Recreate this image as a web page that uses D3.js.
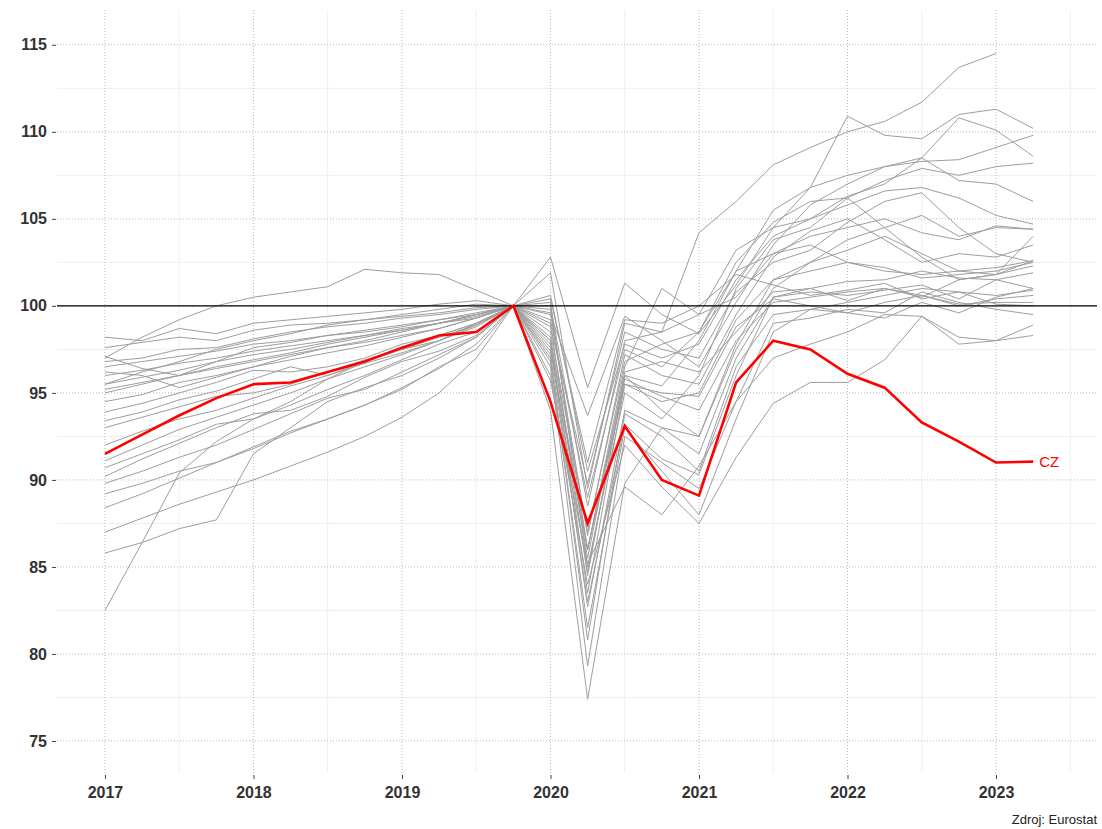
<!DOCTYPE html>
<html>
<head>
<meta charset="utf-8">
<script src="https://cdn.jsdelivr.net/npm/d3@7"></script>
<style>
  body { margin: 0; background: #fff; }
  text { font-family: "Liberation Sans", Arial, sans-serif; }
</style>
</head>
<body>
<div id="chart"></div>
<script>
// quarters 2017Q1 .. 2023Q2, index 2019Q4 = 100
const quarters = [
  "2017Q1","2017Q2","2017Q3","2017Q4","2018Q1","2018Q2","2018Q3","2018Q4",
  "2019Q1","2019Q2","2019Q3","2019Q4","2020Q1","2020Q2","2020Q3","2020Q4",
  "2021Q1","2021Q2","2021Q3","2021Q4","2022Q1","2022Q2","2022Q3","2022Q4",
  "2023Q1","2023Q2"
]

const czValues = [91.5, 92.6, 93.7, 94.7, 95.5, 95.6, 96.2, 96.8, 97.6, 98.3, 98.5, 100,
  94.5, 87.5, 93.1, 90.0, 89.1, 95.6, 98.0, 97.5, 96.1, 95.3, 93.3, 92.2, 91.0, 91.05]

// other EU countries (grey)
const others = [
  [97.0, 98.2, 99.2, 100.0, 100.5, 100.8, 101.1, 102.1, 101.9, 101.8, 100.9, 100, 98.0, 86.0, 96.5, 101.0, 99.5, 100.5, 103.0, 104.0, 104.5, 105.0, 104.2, 103.8, 104.6, 104.4],
  [95.5, 96.2, 96.8, 97.5, 98.0, 98.4, 98.9, 99.2, 99.5, 99.8, 100.1, 100, 101.9, 89.5, 99.0, 98.5, 104.2, 106.0, 108.1, 109.1, 110.0, 110.6, 111.7, 113.7, 114.5, null],
  [98.2, 98.0, 98.7, 98.4, 99.0, 99.2, 99.4, 99.6, 99.8, 100.1, 100.3, 100, 102.8, 95.3, 101.3, 99.5, 98.4, 101.2, 104.5, 106.8, 110.9, 109.8, 109.6, 111.0, 111.3, 110.2],
  [97.6, 97.9, 98.2, 98.0, 98.6, 98.9, 99.0, 99.2, 99.4, 99.6, 99.9, 100, 99.5, 93.7, 99.4, 98.0, 96.5, 100.2, 103.5, 105.8, 107.0, 108.0, 108.3, 108.4, 109.1, 109.8],
  [97.1, 96.4, 96.0, 96.8, 97.6, 97.9, 98.3, 98.6, 98.9, 99.2, 99.5, 100, 100.6, 90.5, 97.8, 97.0, 97.8, 101.5, 104.0, 105.0, 106.3, 107.0, 108.5, 110.8, 110.1, 108.6],
  [96.5, 96.8, 97.1, 97.4, 97.8, 98.0, 98.3, 98.5, 98.8, 99.2, 99.6, 100, 99.8, 86.0, 96.0, 95.4, 98.0, 102.0, 105.5, 106.8, 107.5, 108.0, 108.5, 107.2, 107.0, 106.0],
  [96.0, 96.3, 96.7, 97.0, 97.4, 97.7, 98.0, 98.3, 98.6, 99.0, 99.5, 100, 100.2, 85.0, 95.0, 93.5, 96.0, 101.0, 103.8, 104.5, 106.2, 107.2, 107.9, 107.5, 108.0, 108.2],
  [95.5, 95.9, 96.3, 96.8, 97.2, 97.5, 97.9, 98.3, 98.7, 99.0, 99.5, 100, 100.0, 88.5, 98.0, 98.5, 99.5, 103.2, 104.5, 105.0, 105.8, 106.6, 106.8, 106.2, 105.2, 104.7],
  [95.2, 95.6, 96.0, 96.5, 96.9, 97.3, 97.8, 98.2, 98.6, 99.0, 99.4, 100, 99.0, 84.5, 96.0, 94.0, 92.5, 97.5, 101.0, 102.5, 103.8, 104.5, 105.2, 104.0, 104.5, 104.4],
  [95.0, 95.5, 96.0, 96.4, 96.8, 97.2, 97.6, 97.9, 98.3, 98.7, 99.3, 100, 99.6, 86.8, 97.2, 96.0, 95.5, 99.5, 102.8, 104.3, 105.0, 103.8, 102.5, 103.0, 102.8, 103.5],
  [96.2, 96.0, 95.3, 95.9, 96.5, 97.1, 97.6, 98.0, 98.5, 99.0, 99.3, 100, 98.5, 87.0, 96.8, 97.8, 98.5, 102.0, 103.0, 103.5, 102.5, 102.0, 101.8, 102.0, 102.2, 102.6],
  [93.9, 94.4, 95.0, 95.6, 96.3, 96.2, 96.5, 97.0, 97.8, 98.3, 99.0, 100, 98.0, 83.5, 95.5, 94.5, 95.0, 99.2, 101.5, 102.0, 102.5, 102.2, 101.6, 101.8, 102.0, 102.5],
  [93.4, 93.9, 94.6, 95.1, 95.8, 96.5, 96.0, 96.8, 97.5, 98.2, 98.9, 100, 98.2, 85.5, 96.2, 96.8, 96.2, 98.5, 100.8, 101.0, 101.4, 101.5, 102.0, 101.6, 101.5, 101.9],
  [93.0, 93.6, 94.2, 94.8, 95.0, 95.5, 96.2, 96.9, 97.5, 98.0, 98.8, 100, 97.8, 82.7, 94.0, 93.0, 91.5, 97.0, 100.5, 100.8, 100.6, 100.9, 101.2, 100.4, 101.5, 101.0],
  [91.1, 92.0, 92.9, 93.6, 94.3, 95.0, 95.8, 96.5, 97.2, 98.0, 98.9, 100, 97.6, 84.7, 95.8, 94.8, 94.0, 98.0, 100.2, 100.5, 100.8, 101.0, 100.6, 100.0, 100.4, 100.6],
  [90.7, 91.5, 92.3, 93.2, 93.5, 94.3, 95.2, 96.0, 96.9, 97.8, 98.5, 100, 97.0, 80.8, 93.8, 92.5, 90.5, 96.5, 99.5, 99.8, 99.6, 100.2, 100.6, 100.1, 100.2, 100.2],
  [90.2, 91.2, 92.1, 93.0, 93.8, 94.0, 94.8, 95.9, 96.8, 97.4, 98.3, 100, 96.5, 79.3, 92.5, 91.0, 89.5, 94.5, 99.0, 99.3, 99.8, 99.6, 100.8, 100.2, 99.8, 99.5],
  [89.8, 90.5, 91.3, 92.0, 92.9, 93.8, 94.7, 95.2, 96.2, 97.2, 98.2, 100, 97.4, 86.0, 95.5, 95.0, 94.8, 98.8, 100.4, 100.0, 99.6, 99.3, 100.2, 99.6, 100.5, 101.0],
  [89.2, 89.8, 90.5, 91.0, 91.9, 92.8, 93.5, 94.3, 95.3, 96.4, 97.8, 100, 96.0, 84.0, 92.0, 89.6, 87.5, 91.3, 94.4, 95.6, 95.6, 96.9, 99.4, 98.2, 98.0, 98.9],
  [88.4, 89.2, 90.1, 91.0, 91.8, 92.7, 93.5, 94.3, 95.2, 96.5, 97.5, 100, 95.7, 85.2, 89.6, 88.0, 90.8, 94.5, 97.0, 97.8, 98.5, 99.5, 99.4, 97.8, 98.0, 98.3],
  [87.0, 87.8, 88.6, 89.3, 90.0, 90.8, 91.6, 92.5, 93.6, 95.0, 97.0, 100, 97.2, 83.0, 93.2, 91.2, 90.3, 96.0, 100.5, 101.0, 100.3, 101.0, 100.5, 101.5, 101.8, 102.6],
  [85.8, 86.4, 87.2, 87.7, 91.5, 93.0, 94.5, 95.3, 96.0, 97.0, 98.2, 100, 96.8, 81.5, 93.0, 90.5, 88.0, 93.5, 98.5, 99.8, 100.2, 100.6, 101.0, 100.8, 100.6, 100.9],
  [82.5, 86.4, 90.4, 92.2, 93.5, 94.5, 95.8, 96.8, 97.5, 98.3, 99.0, 100, 94.0, 77.4, 89.8, 93.0, 92.5, 97.8, 101.5, 102.5, 103.2, 104.0, 103.0, 102.0, 101.8, 102.3],
  [94.5, 94.9, 95.6, 96.0, 96.5, 96.9, 97.3, 97.7, 98.2, 98.7, 99.3, 100, 99.2, 89.0, 97.5, 96.5, 98.5, 102.5, 104.8, 106.0, 106.2, 104.5, 102.8, 101.5, 101.8, 104.0],
  [92.0, 92.8, 93.5, 94.0, 94.7, 95.4, 96.0, 96.7, 97.3, 98.0, 99.0, 100, 98.8, 89.8, 98.5, 97.5, 97.0, 100.8, 102.5, 103.2, 104.8, 106.0, 106.5, 104.5, 103.0, 102.5],
  [96.8, 97.0, 97.5, 97.6, 98.1, 98.5, 98.8, 99.0, 99.3, 99.5, 99.8, 100, 100.4, 91.0, 99.2, 99.0, 100.0, 101.8, 101.2, 100.6, 100.9, 101.3, 100.4, 100.8, 100.1, 100.0]
]

const yTicks = [75, 80, 85, 90, 95, 100, 105, 110, 115]
const xTicks = [2017, 2018, 2019, 2020, 2021, 2022, 2023]

const width = 1102, height = 829
const pLeft = 57, pRight = 1097, pTop = 10, pBottom = 773

const svg = d3.select("#chart").append("svg")
  .attr("width", width)
  .attr("height", height)

const x = d3.scaleLinear().domain([2016.677, 2023.68]).range([pLeft, pRight])
const y = d3.scaleLinear().domain([73.16, 117.0]).range([pBottom, pTop])

// quarter label -> decimal year
const qx = q => +q.slice(0, 4) + (+q.slice(5) - 1) / 4

// minor grid
const xMinor = xTicks.map(t => t + 0.5).filter(t => x(t) < pRight)
const yMinor = yTicks.map(t => t - 2.5).concat([117.5]).filter(t => y(t) > pTop && y(t) < pBottom)
svg.append("g").selectAll("line").data(xMinor).join("line")
  .attr("x1", d => x(d)).attr("x2", d => x(d))
  .attr("y1", pTop).attr("y2", pBottom)
  .attr("stroke", "#efefef").attr("stroke-width", 1)
svg.append("g").selectAll("line").data(yMinor).join("line")
  .attr("x1", pLeft).attr("x2", pRight)
  .attr("y1", d => y(d)).attr("y2", d => y(d))
  .attr("stroke", "#efefef").attr("stroke-width", 1)

// major grid (dotted)
svg.append("g").selectAll("line").data(xTicks).join("line")
  .attr("x1", d => x(d)).attr("x2", d => x(d))
  .attr("y1", pTop).attr("y2", pBottom)
  .attr("stroke", "#b8b8b8").attr("stroke-dasharray", "1,2")
svg.append("g").selectAll("line").data(yTicks).join("line")
  .attr("x1", pLeft).attr("x2", pRight)
  .attr("y1", d => y(d)).attr("y2", d => y(d))
  .attr("stroke", "#b8b8b8").attr("stroke-dasharray", "1,2")

// axes
const yAxis = svg.append("g")
  .attr("transform", `translate(${pLeft - 1},0)`)
  .call(d3.axisLeft(y).tickValues(yTicks).tickSize(4).tickPadding(5))
const xAxis = svg.append("g")
  .attr("transform", `translate(0,${pBottom + 2})`)
  .call(d3.axisBottom(x).tickValues(xTicks).tickFormat(d3.format("d")).tickSize(4).tickPadding(8))
for (const ax of [yAxis, xAxis]) {
  ax.select(".domain").remove()
  ax.selectAll(".tick line").attr("stroke", "#444")
  ax.selectAll(".tick text")
    .attr("fill", "#333")
    .style("font-size", "16px")
    .style("font-weight", "bold")
}

const line = d3.line()
  .defined(d => d[1] != null)
  .x(d => x(qx(d[0])))
  .y(d => y(d[1]))

// grey lines
svg.append("g").selectAll("path").data(others).join("path")
  .attr("d", vals => line(quarters.map((q, i) => [q, vals[i]])))
  .attr("fill", "none")
  .attr("stroke", "#9e9e9e")
  .attr("stroke-width", 1)

// reference line at 100
svg.append("line")
  .attr("x1", pLeft).attr("x2", pRight)
  .attr("y1", y(100)).attr("y2", y(100))
  .attr("stroke", "#000").attr("stroke-width", 1.3)

// CZ
svg.append("path")
  .attr("d", line(quarters.map((q, i) => [q, czValues[i]])))
  .attr("fill", "none")
  .attr("stroke", "#ff0000")
  .attr("stroke-width", 2.6)

const lastQ = quarters[quarters.length - 1]
svg.append("text")
  .attr("x", x(qx(lastQ)) + 6)
  .attr("y", y(czValues[czValues.length - 1]) + 5)
  .attr("fill", "#ff0000")
  .style("font-size", "15px")
  .text("CZ")

svg.append("text")
  .attr("x", pRight)
  .attr("y", 824)
  .attr("text-anchor", "end")
  .attr("fill", "#222")
  .style("font-size", "13px")
  .text("Zdroj: Eurostat")
</script>
</body>
</html>
